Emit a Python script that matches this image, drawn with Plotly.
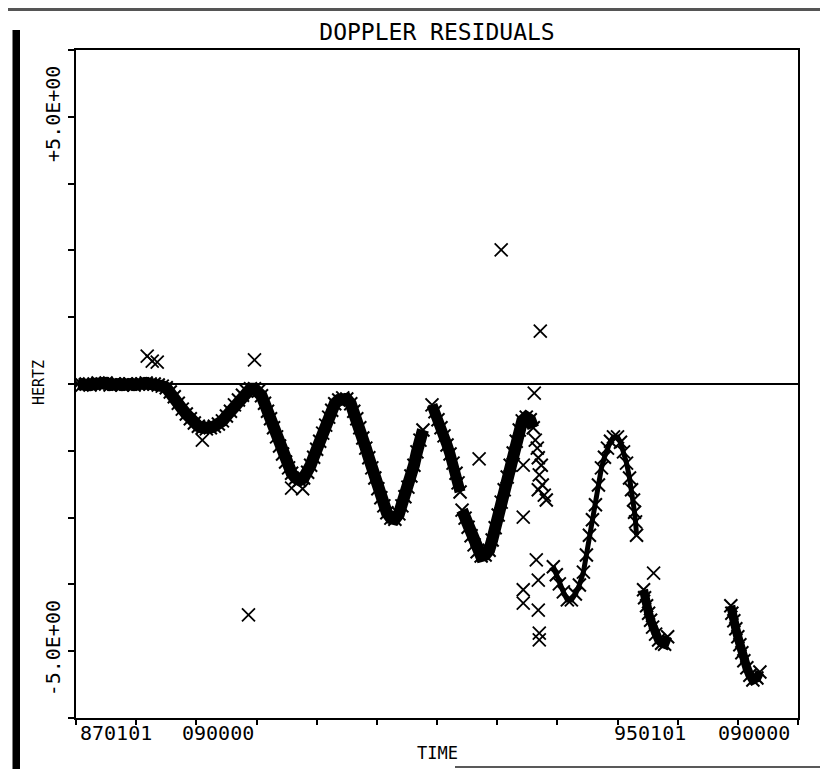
import plotly.graph_objects as go

# ---- data: x = minutes from start of pass, y = Doppler residual (Hz) ----
# dense band: flat start + first three oscillations
band_a_x = [2, 6, 10, 14, 18, 22, 26, 30, 34, 38, 42, 46, 50, 54, 58, 62, 66, 70, 74, 78, 82, 86,
            90, 94, 98, 102, 106, 110, 114, 118, 122, 126, 130, 134, 138, 142, 146, 150, 154, 158,
            162, 166, 170, 174, 178, 182,
            185, 188, 191, 194, 197, 200, 203, 206, 209, 212, 215,
            219, 223, 227, 231,
            234, 237, 240, 243, 246, 249, 252, 255, 258,
            262, 266, 270, 274,
            277, 280, 283, 286, 289, 292, 295, 298, 301, 304, 307, 310,
            314, 318, 322,
            325, 328, 331, 334, 337, 340, 343, 346]
band_a_y = [0, -0.02, 0, -0.02, 0, 0.02, 0, 0.02, -0.02, 0, 0, -0.02, 0, 0, -0.02, 0, 0, 0.02, 0, 0, -0.02, -0.04,
            -0.07, -0.15, -0.24, -0.36, -0.47, -0.56, -0.65, -0.73, -0.79, -0.82, -0.84, -0.82, -0.79, -0.75,
            -0.69, -0.60, -0.51, -0.39, -0.30, -0.21, -0.13, -0.09, -0.09, -0.13,
            -0.22, -0.36, -0.51, -0.65, -0.82, -0.99, -1.16, -1.31, -1.46, -1.57, -1.67,
            -1.76, -1.80, -1.76, -1.65,
            -1.52, -1.37, -1.22, -1.07, -0.92, -0.77, -0.62, -0.49, -0.37,
            -0.30, -0.26, -0.28, -0.37,
            -0.51, -0.65, -0.82, -1.01, -1.20, -1.38, -1.57, -1.76, -1.96, -2.13, -2.28, -2.41,
            -2.51, -2.53, -2.43,
            -2.28, -2.11, -1.93, -1.72, -1.52, -1.27, -1.05, -0.86]

band_c_x = [355, 358, 361, 364, 367, 370, 373, 376, 379, 381, 383]
band_c_y = [-0.39, -0.52, -0.67, -0.82, -0.97, -1.14, -1.31, -1.48, -1.67, -1.85, -2.02]

band_d_x = [385, 388, 391, 394, 397, 400, 404, 408, 412, 415, 418, 421, 424, 427, 430, 433,
            436, 439, 442, 445, 449, 453, 456]
band_d_y = [-2.36, -2.51, -2.68, -2.84, -3.01, -3.14, -3.22, -3.20, -3.11, -2.92, -2.69, -2.45,
            -2.21, -1.98, -1.74, -1.52, -1.29, -1.07, -0.86, -0.69, -0.62, -0.67, -0.82]

frag_e_x = [458, 460, 461, 464, 462, 465, 461, 467, 469]
frag_e_y = [-1.05, -1.20, -1.38, -1.52, -1.70, -1.89, -1.98, -2.08, -2.17]

band_f_x = [476, 479, 482, 486, 490, 494, 498, 502, 506,
            509, 512, 515, 518, 521, 524, 527, 530, 533, 536,
            540, 543, 546, 549, 552, 554, 556, 557, 558, 559]
band_f_y = [-3.42, -3.57, -3.74, -3.89, -4.04, -4.04, -3.93, -3.76, -3.52,
            -3.20, -2.83, -2.54, -2.26, -1.89, -1.57, -1.37, -1.20, -1.07, -0.99,
            -0.99, -1.09, -1.27, -1.48, -1.76, -1.98, -2.17, -2.40, -2.58, -2.83]

band_g_x = [566, 567, 569, 571, 573, 575, 578, 581, 584, 587, 590]
band_g_y = [-3.85, -4.00, -4.15, -4.29, -4.42, -4.55, -4.68, -4.79, -4.85, -4.87, -4.73]

band_h_x = [653, 654, 656, 658, 660, 662, 664, 666, 669, 672, 675, 679, 682]
band_h_y = [-4.15, -4.29, -4.43, -4.58, -4.73, -4.88, -5.03, -5.18, -5.31, -5.45, -5.54, -5.50, -5.39]

outlier_x = [71, 76, 81, 178, 424, 463, 172, 402, 457, 446, 446, 459, 461, 446, 446, 461, 462, 462,
             576, 215, 226, 126]
outlier_y = [0.52, 0.43, 0.41, 0.45, 2.51, 0.99, -4.32, -1.40, -0.17, -1.52, -2.49, -3.29, -3.67,
             -3.85, -4.10, -4.23, -4.66, -4.79, -3.54, -1.95, -1.96, -1.05]

# axis ticks / labels
x_tick_vals = [0, 60, 120, 180, 240, 300, 360, 420, 480, 540, 600, 660, 720]
y_tick_vals = [-6.25, -5.0, -3.75, -2.5, -1.25, 0, 1.25, 2.5, 3.75, 5.0, 6.25]
y_tick_text = ["", "-5.0E+00", "", "", "", "", "", "", "", "+5.0E+00", ""]
time_label_text = ["870101", "090000", "950101", "090000"]
time_label_x = [40, 142, 572, 676]

TITLE = "DOPPLER RESIDUALS"
X_TITLE = "TIME"
Y_TITLE = "HERTZ"

FONT = "DejaVu Sans Mono"
marker_style = dict(symbol="x-thin", size=13, color="black", line=dict(width=2, color="black"))

# page geometry (the page body adds an 8 px offset)
OFF = 8
FIG_W, FIG_H = 828 - OFF, 769 - OFF
PL, PR, PT, PB = 76, 798, 50, 718          # plot box in page pixels


def px(xp):
    return (xp - PL) / (PR - PL)


def py(yp):
    return (PB - yp) / (PB - PT)


fig = go.Figure()
segments = [
    (band_a_x, band_a_y, 12),
    (band_c_x, band_c_y, 11),
    (band_d_x, band_d_y, 12),
    (frag_e_x, frag_e_y, 0),
    (band_f_x, band_f_y, 5),
    (band_g_x, band_g_y, 9),
    (band_h_x, band_h_y, 9),
]
for sx, sy, lw in segments:
    if lw > 0:
        fig.add_trace(go.Scatter(x=sx, y=sy, mode="lines+markers",
                                 line=dict(color="black", width=lw),
                                 marker=marker_style, showlegend=False, hoverinfo="skip"))
    else:
        fig.add_trace(go.Scatter(x=sx, y=sy, mode="markers",
                                 marker=marker_style, showlegend=False, hoverinfo="skip"))
fig.add_trace(go.Scatter(x=outlier_x, y=outlier_y, mode="markers",
                         marker=dict(symbol="x-thin", size=13, color="black",
                                     line=dict(width=1.8, color="black")),
                         showlegend=False, hoverinfo="skip"))

fig.update_layout(
    width=FIG_W, height=FIG_H,
    margin=dict(l=PL - OFF, r=FIG_W + OFF - PR, t=PT - OFF, b=FIG_H + OFF - PB),
    paper_bgcolor="white", plot_bgcolor="white",
    title=dict(text=TITLE, x=0.5, xref="paper", xanchor="center",
               y=1 - (32 - OFF) / FIG_H, yref="container", yanchor="middle",
               font=dict(family=FONT, size=23, color="black")),
    xaxis=dict(range=[0, 720], tickvals=x_tick_vals, showticklabels=False,
               ticks="outside", ticklen=5, tickwidth=1.5, tickcolor="black",
               showline=True, linecolor="black", linewidth=1.5, mirror=True,
               showgrid=False, zeroline=False),
    yaxis=dict(range=[-6.25, 6.25], tickvals=y_tick_vals, ticktext=y_tick_text,
               tickangle=-90, ticks="outside", ticklen=6, tickwidth=1.5, tickcolor="black",
               tickfont=dict(family=FONT, size=20, color="black"),
               showline=True, linecolor="black", linewidth=1.5, mirror=True,
               showgrid=False, zeroline=True, zerolinecolor="black", zerolinewidth=1.5),
    showlegend=False,
)

annotations = []
for txt, xv in zip(time_label_text, time_label_x):
    annotations.append(dict(text=txt, x=xv, xref="x", y=py(733), yref="paper",
                            xanchor="center", yanchor="middle", showarrow=False,
                            font=dict(family=FONT, size=20, color="black")))
annotations.append(dict(text=X_TITLE, x=0.5, xref="paper", y=py(753), yref="paper",
                        xanchor="center", yanchor="middle", showarrow=False,
                        font=dict(family=FONT, size=17, color="black")))
annotations.append(dict(text=Y_TITLE, x=px(39), xref="paper", y=py(383), yref="paper",
                        xanchor="center", yanchor="middle", textangle=-90, showarrow=False,
                        font=dict(family=FONT, size=15, color="black")))
fig.update_layout(annotations=annotations)

# scan artefacts of the original page: binding shadow and page edges
fig.add_shape(type="rect", xref="paper", yref="paper",
              x0=px(12.5), x1=px(20), y0=py(772), y1=py(30),
              fillcolor="black", line=dict(width=0), layer="above")
fig.add_shape(type="line", xref="paper", yref="paper",
              x0=px(OFF), x1=px(828), y0=py(OFF + 1.5), y1=py(OFF + 1.5),
              line=dict(color="#555555", width=3))
fig.add_shape(type="line", xref="paper", yref="paper",
              x0=px(455), x1=px(828), y0=py(767), y1=py(767),
              line=dict(color="#222222", width=1.5))

fig.write_html("out.html")
